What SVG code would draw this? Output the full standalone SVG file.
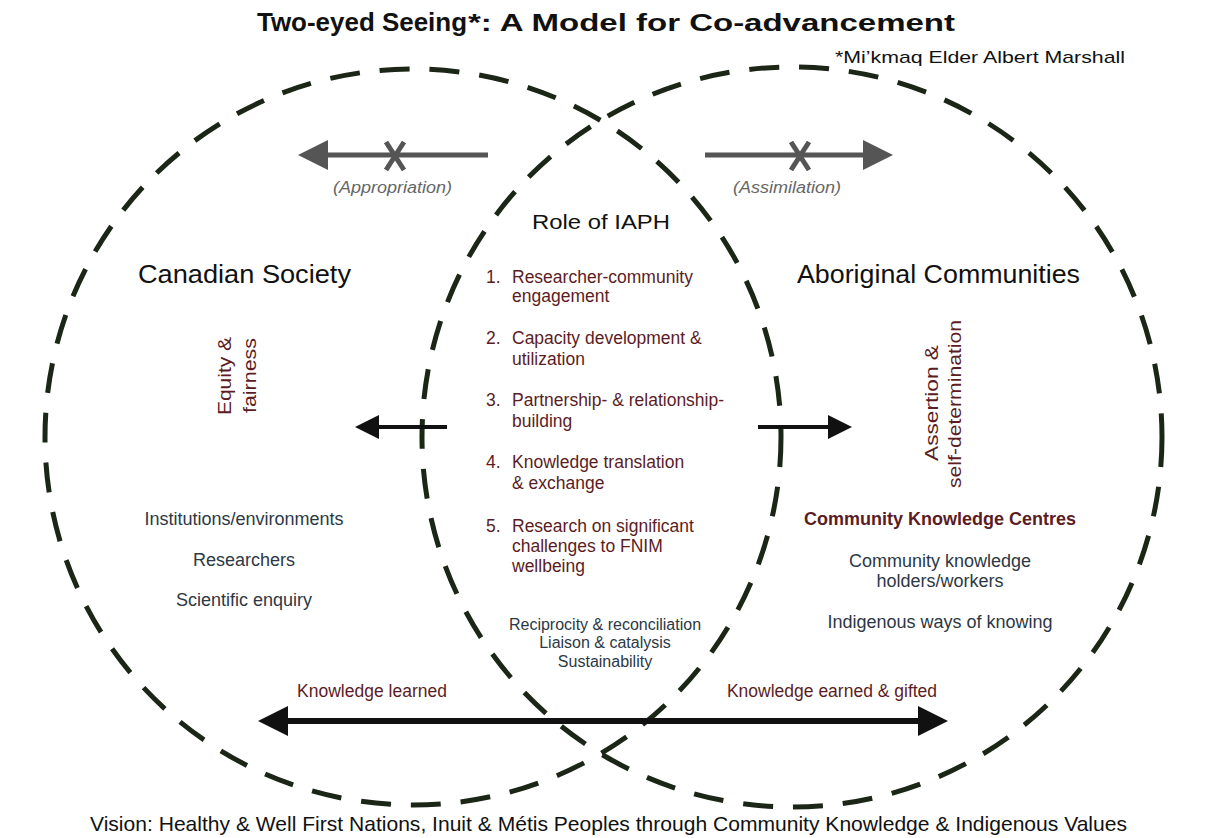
<svg xmlns="http://www.w3.org/2000/svg" width="1222" height="838" viewBox="0 0 1222 838">
<style>
text{font-family:"Liberation Sans",Arial,sans-serif;}
.circ{fill:none;stroke:#1b2616;stroke-width:5;stroke-dasharray:30 20;}
.gray{stroke:#555;stroke-width:5;fill:none;}
.blk{stroke:#111;stroke-width:4;fill:none;}
.big{stroke:#111;stroke-width:6;fill:none;}
.red{fill:#5c1c24;font-size:17.5px;}
.slate{fill:#2c3845;font-size:18px;}
.ital{fill:#666;font-size:16px;font-style:italic;}
.head{fill:#111;font-size:25px;}
</style>
<defs>
<marker id="ag" markerWidth="6" markerHeight="6" refX="1" refY="3" orient="auto-start-reverse" markerUnits="strokeWidth"><path d="M0,0 L6,3 L0,6 Z" fill="#555"/></marker>
<marker id="ab" markerWidth="6" markerHeight="6" refX="1" refY="3" orient="auto-start-reverse" markerUnits="strokeWidth"><path d="M0,0 L6,3 L0,6 Z" fill="#111"/></marker>
<marker id="abig" markerWidth="5" markerHeight="5" refX="1" refY="2.5" orient="auto-start-reverse" markerUnits="strokeWidth"><path d="M0,0 L5,2.5 L0,5 Z" fill="#111"/></marker>
</defs>
<rect width="1222" height="838" fill="#fff"/>
<g id="title">
<text x="257" y="31" font-size="26" font-weight="bold" fill="#111" textLength="210" lengthAdjust="spacingAndGlyphs">Two-eyed Seeing</text>
<text x="468" y="31" font-size="23" font-weight="bold" fill="#111" textLength="487" lengthAdjust="spacingAndGlyphs">*: A Model for Co-advancement</text>
<text x="835" y="63" font-size="17" fill="#111" textLength="290" lengthAdjust="spacingAndGlyphs">*Mi’kmaq Elder Albert Marshall</text>
</g>
<g id="circles">
<circle id="canadian-circle" class="circ" cx="413" cy="437" r="368"/>
<circle id="aboriginal-circle" class="circ" cx="792" cy="437" r="370"/>
</g>
<g id="connectors">
<line class="gray" x1="488" y1="155" x2="323" y2="155" marker-end="url(#ag)"/>
<path class="gray" stroke-width="3" d="M386,142 L404,170 M404,142 L386,170"/>
<line class="gray" x1="705" y1="155" x2="868" y2="155" marker-end="url(#ag)"/>
<path class="gray" stroke-width="3" d="M791,142 L809,170 M809,142 L791,170"/>
<line class="blk" x1="447" y1="427" x2="375" y2="427" marker-end="url(#ab)"/>
<line class="blk" x1="758" y1="427" x2="832" y2="427" marker-end="url(#ab)"/>
<line class="big" x1="282" y1="721" x2="924" y2="721" marker-start="url(#abig)" marker-end="url(#abig)"/>
</g>
<g id="labels-arrows">
<text class="ital" x="333" y="193" textLength="119" lengthAdjust="spacingAndGlyphs">(Appropriation)</text>
<text class="ital" x="733" y="193" textLength="108" lengthAdjust="spacingAndGlyphs">(Assimilation)</text>
</g>
<g id="iaph">
<text x="532" y="229" font-size="21" fill="#111" textLength="138" lengthAdjust="spacingAndGlyphs">Role of IAPH</text>
<text x="486" y="283" class="red">1.</text><text x="512" y="283" class="red">Researcher-community</text><text x="512" y="302" class="red">engagement</text>
<text x="486" y="344" class="red">2.</text><text x="512" y="344" class="red">Capacity development &amp;</text><text x="512" y="365" class="red">utilization</text>
<text x="486" y="406" class="red">3.</text><text x="512" y="406" class="red">Partnership- &amp; relationship-</text><text x="512" y="427" class="red">building</text>
<text x="486" y="468" class="red">4.</text><text x="512" y="468" class="red">Knowledge translation</text><text x="512" y="489" class="red">&amp; exchange</text>
<text x="486" y="532" class="red">5.</text><text x="512" y="532" class="red">Research on significant</text><text x="512" y="552" class="red">challenges to FNIM</text><text x="512" y="572" class="red">wellbeing</text>
<text class="slate" x="605" y="630" text-anchor="middle" style="font-size:16px">Reciprocity &amp; reconciliation</text>
<text class="slate" x="605" y="648" text-anchor="middle" style="font-size:16px">Liaison &amp; catalysis</text>
<text class="slate" x="605" y="667" text-anchor="middle" style="font-size:16px">Sustainability</text>
</g>
<g id="canadian">
<text class="head" x="138" y="283" textLength="213" lengthAdjust="spacingAndGlyphs">Canadian Society</text>
<text class="red" style="font-size:19px" transform="translate(231,415) rotate(-90)" textLength="78" lengthAdjust="spacingAndGlyphs">Equity &amp;</text>
<text class="red" style="font-size:19px" transform="translate(256,413) rotate(-90)" textLength="75" lengthAdjust="spacingAndGlyphs">fairness</text>
<text class="slate" x="244" y="525" text-anchor="middle">Institutions/environments</text>
<text class="slate" x="244" y="566" text-anchor="middle">Researchers</text>
<text class="slate" x="244" y="606" text-anchor="middle">Scientific enquiry</text>
<text class="red" style="font-size:17.5px" x="372" y="697" text-anchor="middle">Knowledge learned</text>
</g>
<g id="aboriginal">
<text class="head" x="797" y="283" textLength="283" lengthAdjust="spacingAndGlyphs">Aboriginal Communities</text>
<text class="red" style="font-size:19px" transform="translate(938,461) rotate(-90)" textLength="116" lengthAdjust="spacingAndGlyphs">Assertion &amp;</text>
<text class="red" style="font-size:19px" transform="translate(961,488) rotate(-90)" textLength="168" lengthAdjust="spacingAndGlyphs">self-determination</text>
<text class="red" style="font-size:18px;font-weight:bold" x="940" y="525" text-anchor="middle">Community Knowledge Centres</text>
<text class="slate" x="940" y="567" text-anchor="middle">Community knowledge</text>
<text class="slate" x="940" y="587" text-anchor="middle">holders/workers</text>
<text class="slate" x="940" y="628" text-anchor="middle">Indigenous ways of knowing</text>
<text class="red" style="font-size:17.5px" x="832" y="697" text-anchor="middle">Knowledge earned &amp; gifted</text>
</g>
<g id="vision">
<text x="90" y="831" font-size="21" fill="#111" textLength="1037" lengthAdjust="spacingAndGlyphs">Vision: Healthy &amp; Well First Nations, Inuit &amp; Métis Peoples through Community Knowledge &amp; Indigenous Values</text>
</g>
</svg>
